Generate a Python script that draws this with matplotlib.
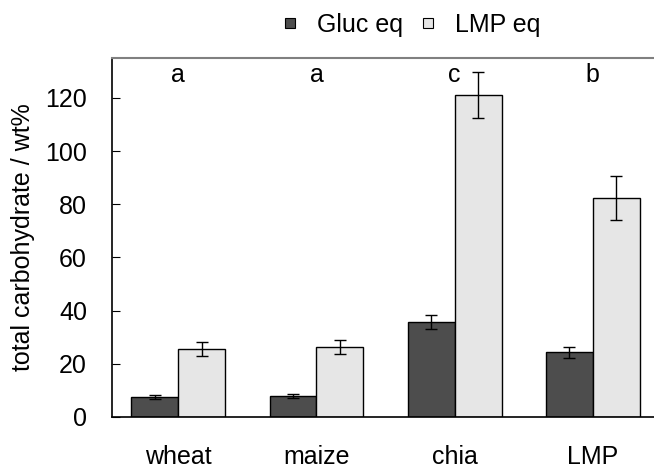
import numpy as np
import matplotlib.pyplot as plt
from matplotlib.lines import Line2D

plt.rcParams['font.family'] = ['Liberation Sans', 'DejaVu Sans']

samples = ['wheat', 'maize', 'chia', 'LMP']
gluc_eq = [7.4, 7.9, 35.7, 24.3]
gluc_err = [0.7, 0.6, 2.6, 2.2]
lmp_eq = [25.5, 26.2, 121.0, 82.2]
lmp_err = [2.6, 2.6, 8.6, 8.3]
letters = ['a', 'a', 'c', 'b']

dark = '#4d4d4d'
light = '#e6e6e6'
fs = 18

fig = plt.figure(figsize=(6.54, 4.68), dpi=100)
ax = fig.add_axes([0.1713, 0.109, 0.8364, 0.767])

x = np.arange(len(samples))
w = 0.34
err_kw = dict(ecolor='black', elinewidth=1.0, capsize=4, capthick=1.0)
ax.bar(x - w / 2, gluc_eq, w, yerr=gluc_err, color=dark, edgecolor='black',
       linewidth=1.0, error_kw=err_kw)
ax.bar(x + w / 2, lmp_eq, w, yerr=lmp_err, color=light, edgecolor='black',
       linewidth=1.0, error_kw=err_kw)

# significance letters above each group
for xi, s in zip(x, letters):
    ax.text(xi, 128.5, s, ha='center', va='center', fontsize=fs)

ax.set_xlim(-0.48, 3.48)
ax.set_ylim(0, 135)
ax.set_yticks(range(0, 121, 20))
ax.set_xticks(x)
ax.set_xticklabels(samples)
ax.tick_params(axis='x', length=0, pad=20, labelsize=fs)
ax.tick_params(axis='y', direction='in', length=6, pad=18, labelsize=fs)
ax.set_ylabel('total carbohydrate / wt%', fontsize=fs, labelpad=7)

ax.spines['right'].set_visible(False)
ax.spines['top'].set_color('#808080')
ax.spines['top'].set_linewidth(1.5)
for side in ['left', 'bottom']:
    ax.spines[side].set_linewidth(1.2)

handles = [
    Line2D([], [], marker='s', linestyle='none', markersize=6.5,
           markerfacecolor=dark, markeredgecolor='black', markeredgewidth=0.8),
    Line2D([], [], marker='s', linestyle='none', markersize=6.5,
           markerfacecolor=light, markeredgecolor='black', markeredgewidth=0.8),
]
fig.legend(handles, ['Gluc eq', 'LMP eq'], loc='center', ncol=2,
           bbox_to_anchor=(0.629, 0.947), frameon=False, fontsize=fs,
           handlelength=0.6, handletextpad=0.8, columnspacing=0.68)

fig.savefig('out.png', dpi=100)
